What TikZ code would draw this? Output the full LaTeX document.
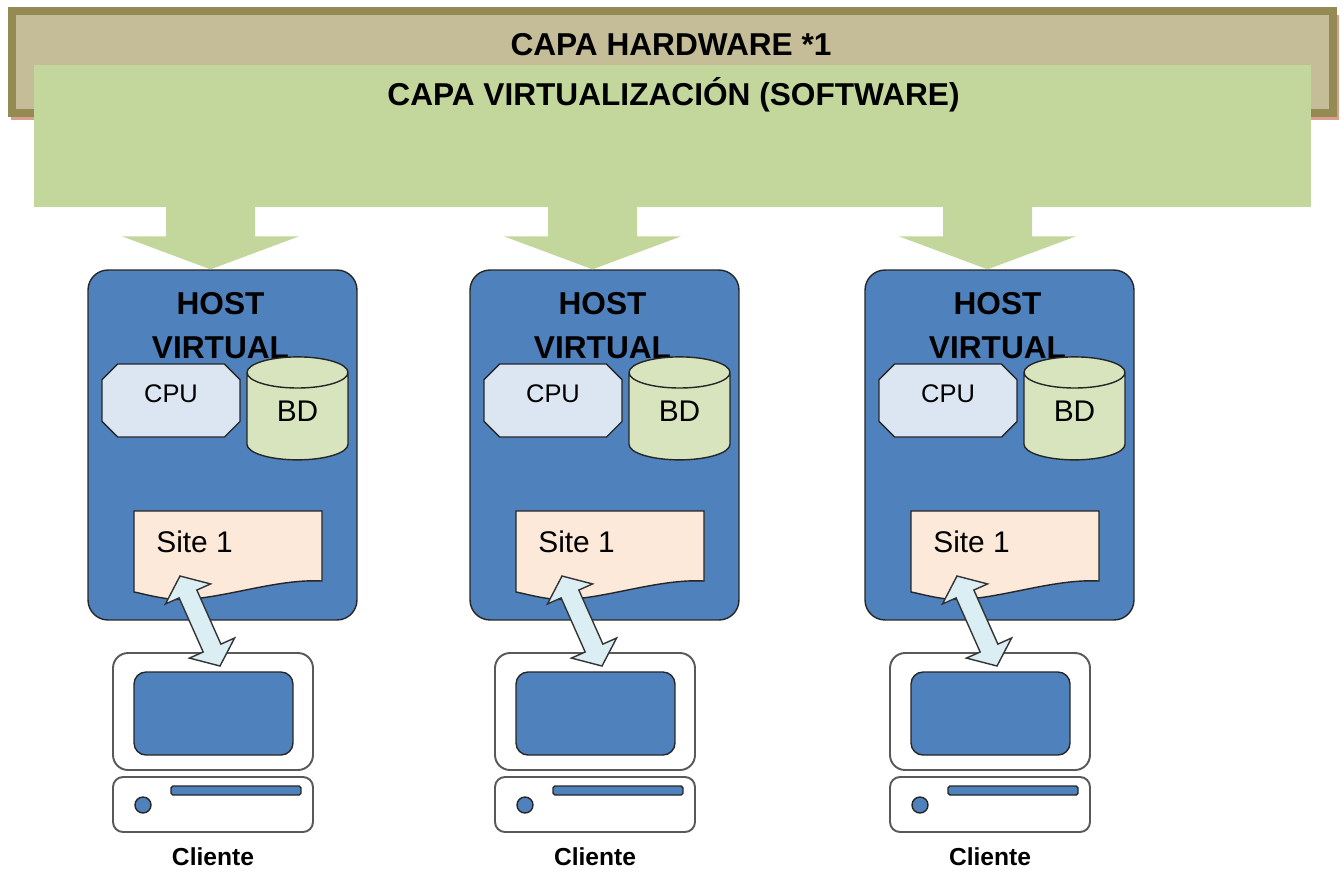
\documentclass[tikz,border=0pt]{standalone}
\usepackage{fontspec}
\setmainfont{Liberation Sans}
\usetikzlibrary{calc,shapes.geometric,shapes.misc,shapes.arrows}
\definecolor{hwfill}{HTML}{C4BD97}
\definecolor{hwline}{HTML}{948A54}
\definecolor{hwshadow}{HTML}{D9A08C}
\definecolor{virtfill}{HTML}{C3D69B}
\definecolor{hostfill}{HTML}{4F81BD}
\definecolor{cpufill}{HTML}{DCE6F2}
\definecolor{bdfill}{HTML}{D7E4BD}
\definecolor{sitefill}{HTML}{FDE9D9}
\definecolor{linkfill}{HTML}{DAEEF3}
\definecolor{pcline}{HTML}{595959}
\tikzset{
  titletext/.style={font=\bfseries\fontsize{18}{22}\selectfont, inner sep=0pt},
  hwbox/.style={draw=hwline, fill=hwfill, line width=4.5pt, minimum width=26.42cm, minimum height=2.04cm},
  virtbox/.style={fill=virtfill, minimum width=25.54cm, minimum height=2.84cm, inner sep=0pt},
  hostbox/.style={draw=black!85, fill=hostfill, line width=0.8pt, rounded corners=0.4cm, minimum width=5.38cm, minimum height=7cm},
  hostlabel/.style={font=\bfseries\fontsize{18}{25}\selectfont, align=center, inner sep=0pt},
  cpubox/.style={chamfered rectangle, chamfered rectangle xsep=0.13cm, chamfered rectangle ysep=0.18cm, draw=black!85, fill=cpufill, line width=0.8pt, minimum width=2.76cm, minimum height=1.46cm, inner sep=0pt, text height=10.4pt, text depth=7.6pt, font=\fontsize{14.5}{17}\selectfont},
  bdbox/.style={cylinder, shape border rotate=90, aspect=0.75, draw=black!85, fill=bdfill, line width=0.8pt, minimum width=2.02cm, minimum height=2.06cm, inner sep=0pt, text height=12.4pt, text depth=6.2pt, font=\fontsize{17}{20}\selectfont},
  sitebox/.style={draw=black!85, fill=sitefill, line width=0.8pt},
  linkarrow/.style={double arrow, draw=black!80, fill=linkfill, line width=0.8pt, minimum height=1.97cm, double arrow head extend=0.3cm, double arrow tip angle=103, inner xsep=0pt, inner ysep=0.18cm},
  pcbox/.style={draw=pcline, fill=white, line width=1.1pt, minimum width=4cm},
  bluepart/.style={draw=black!85, fill=hostfill, line width=0.8pt, inner sep=0pt}
}
\begin{document}
\begin{tikzpicture}[x=0.02cm,y=-0.02cm]
\useasboundingbox (0,0) rectangle (1342,870);
\fill[hwshadow] (11,15) rectangle (1339,120);
\node[hwbox] (hw) at (672.5,62) {};
\node[titletext, anchor=base] (hwtitle) at (671,55) {CAPA HARDWARE *1};
\node[virtbox] (virt) at (672.5,136) {};
\node[titletext, anchor=base] (virttitle) at (673.5,105) {CAPA VIRTUALIZACIÓN (SOFTWARE)};
\foreach \dx [count=\n] in {0,382,777}{
  \begin{scope}[shift={(\dx,0)}]
    \node[hostbox] (host\n) at (222.5,445) {};
    \fill[virtfill] ($(host\n.north)+(-12,0)$) -- ++(-88.5,-33) -- ++(44,0) -- ++(0,-35)
      -- ++(89,0) -- ++(0,35) -- ++(44,0) -- cycle;
    \node[hostlabel, anchor=north] (hostlbl\n) at ($(host\n.north)+(-2,23)$) {HOST\\VIRTUAL};
    \node[cpubox] (cpu\n) at (171,400.5) {CPU};
    \node[bdbox] (bd\n) at (297.5,416.5) {BD};
    \draw[sitebox] (134,511) -- (322,511) -- (322,581) .. controls (270,578) and (205,606) .. (163,598)
      .. controls (150,596) and (140,593) .. (134,592) -- cycle;
    \node[anchor=base west, inner sep=0pt, font=\fontsize{17}{20}\selectfont] (site\n) at (156,552) {Site 1};
    \node[pcbox, rounded corners=0.3cm, minimum height=2.34cm] (pc\n) at (213,711.5) {};
    \node[bluepart, rounded corners=0.24cm, minimum width=3.18cm, minimum height=1.66cm] (screen\n) at (213.5,713.5) {};
    \node[pcbox, rounded corners=0.2cm, minimum height=1.1cm] (base\n) at (213,804.5) {};
    \node[bluepart, rounded corners=1pt, minimum width=2.6cm, minimum height=0.18cm] (slot\n) at (236,790.5) {};
    \node[bluepart, circle, minimum size=0.32cm] (disc\n) at (143,805) {};
    \node[anchor=base, inner sep=0pt, font=\bfseries\fontsize{14}{17}\selectfont] (cliente\n) at (213,865) {Cliente};
    \coordinate (lnkA\n) at (180,576);
    \coordinate (lnkB\n) at (220,666);
    \path (lnkA\n) -- (lnkB\n) node[linkarrow, midway, sloped] (link\n) {};
  \end{scope}
}
\end{tikzpicture}
\end{document}
